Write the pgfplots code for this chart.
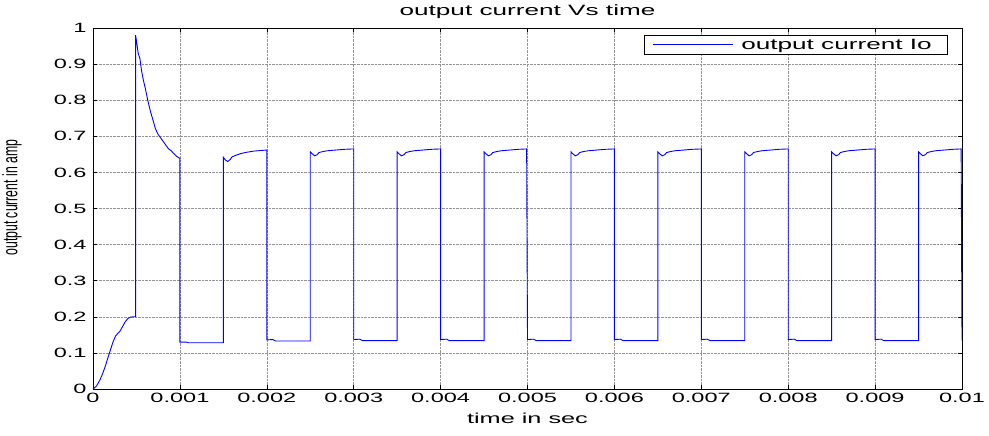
\documentclass[border=0pt]{standalone}
\usepackage{pgfplots}
\pgfplotsset{compat=1.18}
\usepackage{fontspec}
\setmainfont{Liberation Sans}[FakeStretch=1.75]
\newfontfamily\plainfont{Liberation Sans}
\definecolor{mblue}{RGB}{0,0,255}
\begin{document}
\begin{tikzpicture}
\useasboundingbox (-93bp,-47bp) rectangle (896bp,389bp);
\begin{axis}[
  at={(0,0)}, anchor=south west,
  scale only axis, width=869bp, height=361bp,
  xmin=0, xmax=0.01, ymin=0, ymax=1,
  scaled x ticks=false, scaled y ticks=false,
  axis line style={black, line width=0.9bp},
  grid=major,
  major grid style={densely dotted, gray!85, line width=0.5bp},
  tick align=inside, xtick pos=both, ytick pos=both,
  major tick length=4bp,
  tick style={black, line width=0.5bp},
  xtick={0,0.001,0.002,0.003,0.004,0.005,0.006,0.007,0.008,0.009,0.01},
  xticklabels={0,0.001,0.002,0.003,0.004,0.005,0.006,0.007,0.008,0.009,0.01},
  ytick={0,0.1,0.2,0.3,0.4,0.5,0.6,0.7,0.8,0.9,1},
  yticklabels={0,0.1,0.2,0.3,0.4,0.5,0.6,0.7,0.8,0.9,1},
  /pgf/number format/assume math mode=true,
  tick label style={font=\fontsize{13.5}{14}\selectfont},
  xticklabel style={yshift=-1bp},
  yticklabel style={xshift=-3bp},
  title={output current Vs time},
  title style={at={(axis description cs:0.5,1.019)}, anchor=base, inner sep=0pt, font=\fontsize{15}{15}\selectfont},
  xlabel={time in sec},
  xlabel style={at={(axis description cs:0.5,-0.0942)}, anchor=base, inner sep=0pt, font=\fontsize{14.5}{15}\selectfont},
  ylabel={\scalebox{1}[1.7]{\plainfont\fontsize{12.3}{12}\selectfont output current in amp}},
  ylabel style={at={(axis description cs:-0.0932,0.53)}, anchor=center, inner sep=0pt},
  legend style={at={(axis description cs:0.9839,0.9806)}, anchor=north east, draw=black, line width=0.6bp,
    inner xsep=8bp, inner ysep=1.5bp, nodes={inner xsep=8bp, inner ysep=2bp},
    font=\fontsize{15}{15}\selectfont},
  legend cell align=left,
  legend image code/.code={\draw[#1, line width=0.8bp] (0bp,0bp) -- (80bp,0bp);},
]
\addplot[mblue, line width=0.9bp] coordinates {
(0,0) (0.00004,0.008) (0.00008,0.025) (0.00011,0.042) (0.00014,0.062) (0.00017,0.085) (0.0002,0.108) (0.00023,0.13) (0.00026,0.147) (0.00029,0.155) (0.00031,0.16) (0.00034,0.173) (0.00037,0.186) (0.0004,0.195) (0.00043,0.199) (0.00046,0.2) (0.00049,0.2)
(0.00049,0.98) (0.0005,0.965) (0.00052,0.93) (0.00054,0.915) (0.00056,0.88) (0.00058,0.855) (0.0006,0.835) (0.00063,0.8) (0.00066,0.77) (0.00069,0.745) (0.00072,0.72) (0.00075,0.705) (0.00078,0.695) (0.00081,0.685) (0.00084,0.675) (0.00087,0.665) (0.0009,0.66) (0.00093,0.652) (0.00096,0.645) (0.00099,0.64) (0.001,0.64)
(0.001,0.13) (0.00107,0.13) (0.0011,0.128) (0.0015,0.128)
(0.0015,0.642) (0.00152,0.635) (0.00155,0.63) (0.00158,0.636) (0.0016,0.643) (0.00165,0.648) (0.0017,0.652) (0.00175,0.655) (0.0018,0.657) (0.00185,0.659) (0.0019,0.66) (0.00195,0.661) (0.002,0.662)
(0.002,0.136) (0.00207,0.137) (0.0021,0.133) (0.0025,0.133)
(0.0025,0.657) (0.00252,0.652) (0.00255,0.646) (0.00258,0.649) (0.0026,0.655) (0.00265,0.658) (0.0027,0.66) (0.00275,0.661) (0.0028,0.662) (0.0029,0.664) (0.003,0.665)
(0.003,0.137) (0.00307,0.138) (0.0031,0.134) (0.0035,0.134)
(0.0035,0.657) (0.00352,0.652) (0.00355,0.646) (0.00358,0.649) (0.0036,0.655) (0.00365,0.658) (0.0037,0.66) (0.00375,0.661) (0.0038,0.662) (0.0039,0.664) (0.004,0.665)
(0.004,0.137) (0.00407,0.138) (0.0041,0.134) (0.0045,0.134)
(0.0045,0.657) (0.00452,0.652) (0.00455,0.646) (0.00458,0.649) (0.0046,0.655) (0.00465,0.658) (0.0047,0.66) (0.00475,0.661) (0.0048,0.662) (0.0049,0.664) (0.00499,0.665)
(0.005,0.137) (0.00507,0.138) (0.0051,0.134) (0.0055,0.134)
(0.0055,0.657) (0.00552,0.652) (0.00555,0.646) (0.00558,0.649) (0.0056,0.655) (0.00565,0.658) (0.0057,0.66) (0.00575,0.661) (0.0058,0.662) (0.0059,0.664) (0.006,0.665)
(0.006,0.137) (0.00607,0.138) (0.0061,0.134) (0.0065,0.134)
(0.0065,0.657) (0.00652,0.652) (0.00655,0.646) (0.00658,0.649) (0.0066,0.655) (0.00665,0.658) (0.0067,0.66) (0.00675,0.661) (0.0068,0.662) (0.0069,0.664) (0.007,0.665)
(0.007,0.137) (0.00707,0.138) (0.0071,0.134) (0.0075,0.134)
(0.0075,0.657) (0.00752,0.652) (0.00755,0.646) (0.00758,0.649) (0.0076,0.655) (0.00765,0.658) (0.0077,0.66) (0.00775,0.661) (0.0078,0.662) (0.0079,0.664) (0.008,0.665)
(0.008,0.137) (0.00807,0.138) (0.0081,0.134) (0.0085,0.134)
(0.0085,0.657) (0.00852,0.652) (0.00855,0.646) (0.00858,0.649) (0.0086,0.655) (0.00865,0.658) (0.0087,0.66) (0.00875,0.661) (0.0088,0.662) (0.0089,0.664) (0.009,0.665)
(0.009,0.137) (0.00907,0.138) (0.0091,0.134) (0.0095,0.134)
(0.0095,0.657) (0.00952,0.652) (0.00955,0.646) (0.00958,0.649) (0.0096,0.655) (0.00965,0.658) (0.0097,0.66) (0.00975,0.661) (0.0098,0.662) (0.0099,0.664) (0.00999,0.665)
(0.01,0.135)
};
\addlegendentry{output current Io}
\end{axis}
\end{tikzpicture}
\end{document}
